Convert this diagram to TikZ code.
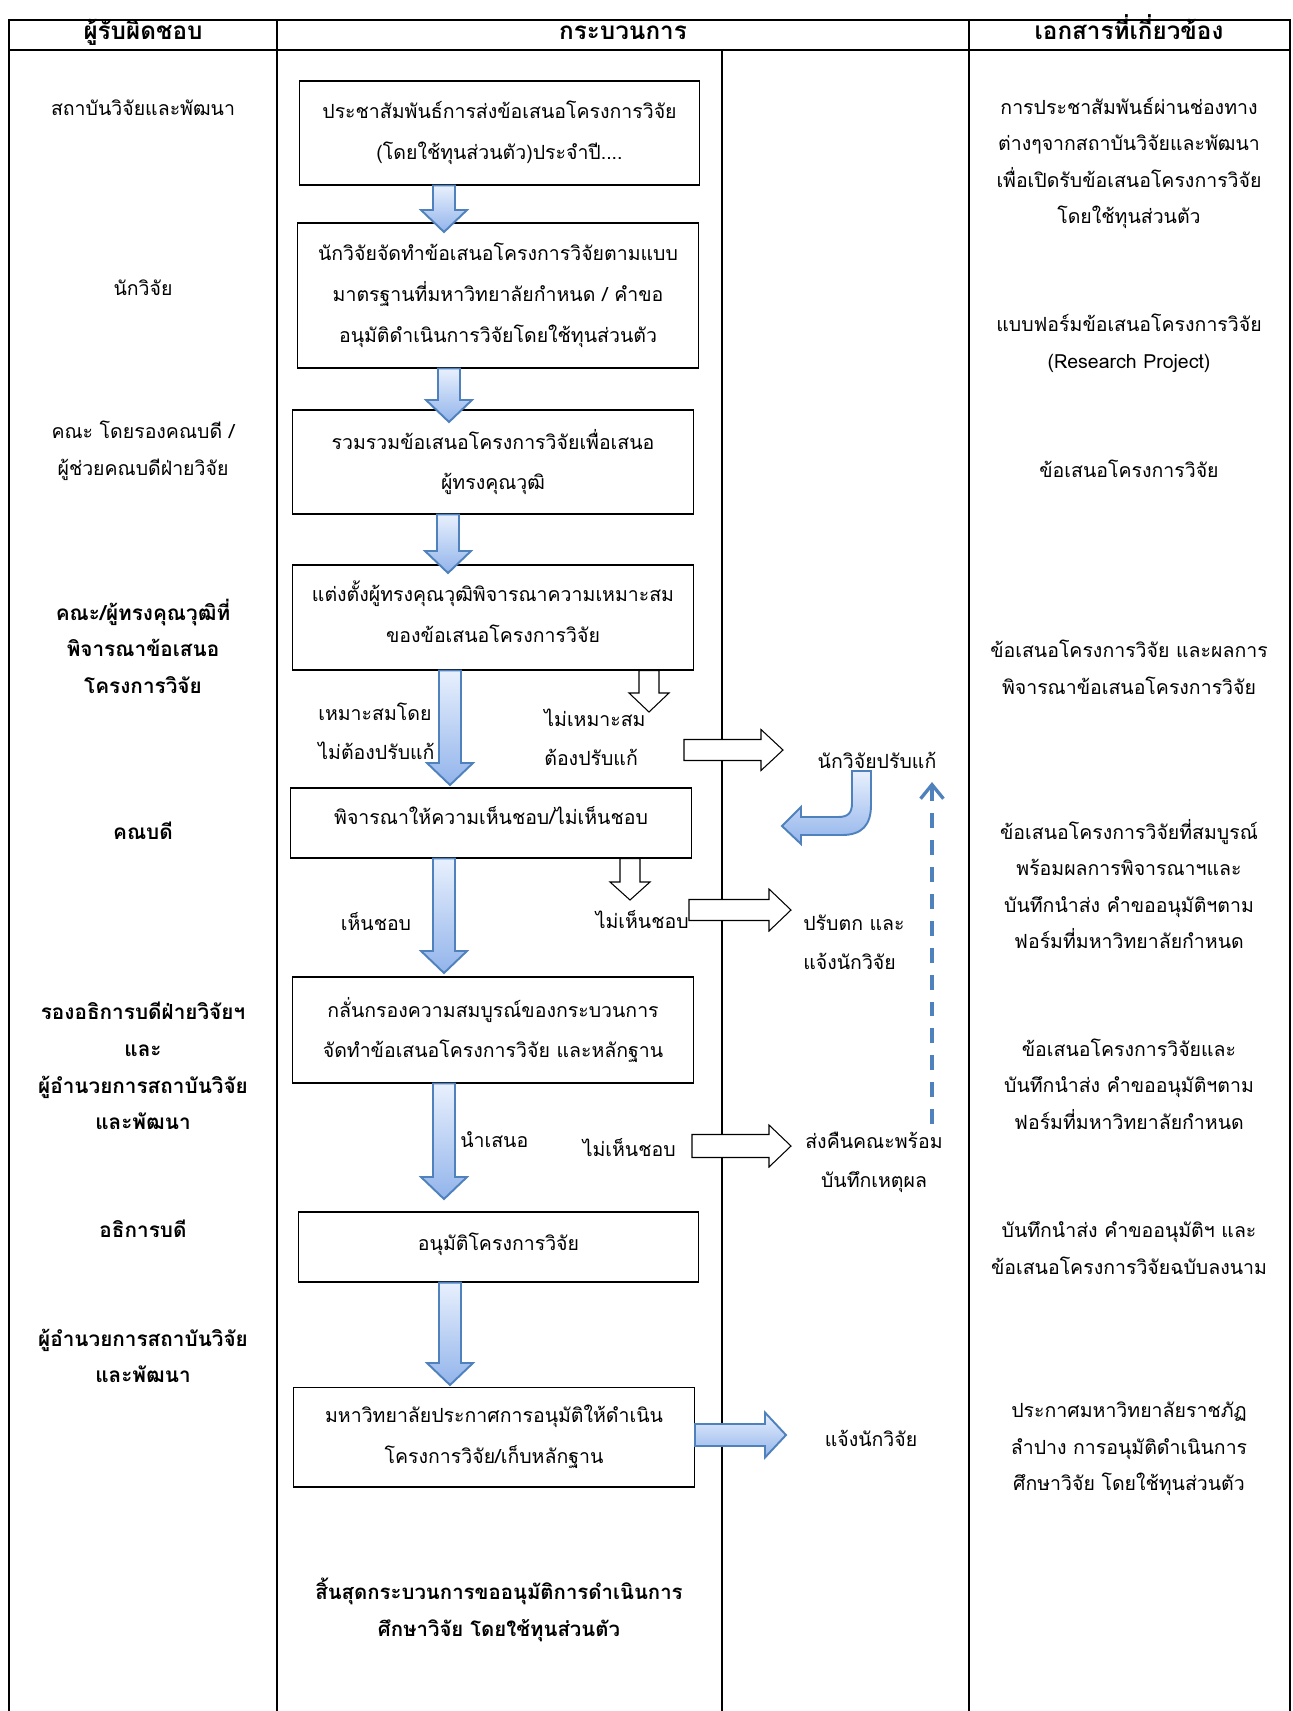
\documentclass[tikz,border=0pt]{standalone}
\usepackage{fontspec}
\setmainfont[Script=Thai]{Loma}
\usetikzlibrary{calc,arrows.meta}

\definecolor{arrowedge}{RGB}{79,129,189}
\definecolor{arrowlight}{RGB}{232,240,253}
\definecolor{arrowdark}{RGB}{146,180,235}

\tikzset{
  frameline/.style={line width=1.2pt},
  procbox/.style={draw, line width=0.6pt, align=center, inner sep=0pt,
    minimum width=8.02cm, font=\fontsize{11.1}{23.3}\selectfont},
  sidetext/.style={align=center, inner sep=0pt, font=\fontsize{11.1}{20.8}\selectfont},
  sidebold/.style={align=center, inner sep=0pt, font=\bfseries\fontsize{11.8}{20.8}\selectfont},
  headtext/.style={inner sep=0pt, anchor=base, font=\bfseries\fontsize{13.8}{16}\selectfont},
  flowtext/.style={align=left, inner sep=0pt, font=\fontsize{11.1}{22.3}\selectfont},
  endtext/.style={align=center, inner sep=0pt, font=\bfseries\fontsize{11.6}{21}\selectfont},
  bluearrow/.style={draw=arrowedge, line width=1.1pt, top color=arrowlight, bottom color=arrowdark},
  whitearrow/.style={draw=black, line width=0.6pt, fill=white},
  backline/.style={draw=arrowedge, line width=1.9pt, dash pattern=on 8.5pt off 6.8pt,
    -{Straight Barb[length=8pt,width=13pt]}}
}

% block arrows: style, tail, tip, half shaft, half head, head length
\newcommand{\downblock}[6]{\draw[#1] ($#2+(-#4,0)$) -- ($#2+(#4,0)$) -- ($#3+(#4,-#6)$) -- ($#3+(#5,-#6)$) -- #3 -- ($#3+(-#5,-#6)$) -- ($#3+(-#4,-#6)$) -- cycle;}
\newcommand{\rightblock}[6]{\draw[#1] ($#2+(0,-#4)$) -- ($#3+(-#6,-#4)$) -- ($#3+(-#6,-#5)$) -- #3 -- ($#3+(-#6,#5)$) -- ($#3+(-#6,#4)$) -- ($#2+(0,#4)$) -- cycle;}
% extra depth under the last line, lifts the text in its box
\newcommand{\lowstrut}[1]{\rule[-#1]{0pt}{0pt}}

\begin{document}
\begin{tikzpicture}[x=0.02cm, y=-0.02cm]
    \useasboundingbox (0,0) rectangle (1293,1711);

    % table frame
    \draw[frameline] (8.7,1711) -- (8.7,19.6) -- (1289.7,19.6) -- (1289.7,1711);
    \draw[frameline] (8.7,50.2) -- (1289.7,50.2);
    \draw[frameline] (277,19.6) -- (277,1711);
    \draw[frameline] (969,19.6) -- (969,1711);
    \draw[line width=0.8pt] (722,50.2) -- (722,1711);

    \node[headtext] (h1) at (143,39.5) {ผู้รับผิดชอบ};
    \node[headtext] (h2) at (623,39.5) {กระบวนการ};
    \node[headtext] (h3) at (1129,39.5) {เอกสารที่เกี่ยวข้อง};

    % who
    \node[sidetext] (r1) at (143,108) {สถาบันวิจัยและพัฒนา};
    \node[sidetext] (r2) at (143,288) {นักวิจัย};
    \node[sidetext] (r3) at (143,451) {คณะ โดยรองคณบดี /\\ผู้ช่วยคณบดีฝ่ายวิจัย};
    \node[sidebold] (r4) at (143,646) {คณะ/ผู้ทรงคุณวุฒิที่\\พิจารณาข้อเสนอ\\โครงการวิจัย};
    \node[sidebold] (r5) at (143,831) {คณบดี};
    \node[sidebold] (r6) at (143,1066) {รองอธิการบดีฝ่ายวิจัยฯ\\และ\\ผู้อำนวยการสถาบันวิจัย\\และพัฒนา};
    \node[sidebold] (r7) at (143,1229) {อธิการบดี};
    \node[sidebold] (r8) at (143,1356) {ผู้อำนวยการสถาบันวิจัย\\และพัฒนา};

    % documents
    \node[sidetext] (d1) at (1129,163) {การประชาสัมพันธ์ผ่านช่องทาง\\ต่างๆจากสถาบันวิจัยและพัฒนา\\เพื่อเปิดรับข้อเสนอโครงการวิจัย\\โดยใช้ทุนส่วนตัว};
    \node[sidetext] (d2) at (1129,343) {แบบฟอร์มข้อเสนอโครงการวิจัย\\(Research Project)};
    \node[sidetext] (d3) at (1129,469) {ข้อเสนอโครงการวิจัย};
    \node[sidetext] (d4) at (1129,667) {ข้อเสนอโครงการวิจัย และผลการ\\พิจารณาข้อเสนอโครงการวิจัย};
    \node[sidetext] (d5) at (1129,884) {ข้อเสนอโครงการวิจัยที่สมบูรณ์\\พร้อมผลการพิจารณาฯและ\\บันทึกนำส่ง คำขออนุมัติฯตาม\\ฟอร์มที่มหาวิทยาลัยกำหนด};
    \node[sidetext] (d6) at (1129,1084) {ข้อเสนอโครงการวิจัยและ\\บันทึกนำส่ง คำขออนุมัติฯตาม\\ฟอร์มที่มหาวิทยาลัยกำหนด};
    \node[sidetext] (d7) at (1129,1248) {บันทึกนำส่ง คำขออนุมัติฯ และ\\ข้อเสนอโครงการวิจัยฉบับลงนาม};
    \node[sidetext] (d8) at (1129,1449) {ประกาศมหาวิทยาลัยราชภัฏ\\ลำปาง การอนุมัติดำเนินการ\\ศึกษาวิจัย โดยใช้ทุนส่วนตัว};

    % process
    \node[procbox, minimum height=2.08cm] (b1) at (499.5,133) {ประชาสัมพันธ์การส่งข้อเสนอโครงการวิจัย\\(โดยใช้ทุนส่วนตัว)ประจำปี....};
    \node[procbox, minimum height=2.9cm] (b2) at (498,295.5) {นักวิจัยจัดทำข้อเสนอโครงการวิจัยตามแบบ\\มาตรฐานที่มหาวิทยาลัยกำหนด / คำขอ\\อนุมัติดำเนินการวิจัยโดยใช้ทุนส่วนตัว};
    \node[procbox, minimum height=2.08cm] (b3) at (493,462) {รวมรวมข้อเสนอโครงการวิจัยเพื่อเสนอ\\ผู้ทรงคุณวุฒิ};
    \node[procbox, minimum height=2.1cm] (b4) at (493,617.5) {แต่งตั้งผู้ทรงคุณวุฒิพิจารณาความเหมาะสม\\ของข้อเสนอโครงการวิจัย\lowstrut{7pt}};
    \node[procbox, minimum height=1.4cm] (b5) at (491,823) {พิจารณาให้ความเห็นชอบ/ไม่เห็นชอบ\lowstrut{8.5pt}};
    \node[procbox, minimum height=2.12cm] (b6) at (493,1030) {กลั่นกรองความสมบูรณ์ของกระบวนการ\\จัดทำข้อเสนอโครงการวิจัย และหลักฐาน};
    \node[procbox, minimum height=1.4cm] (b7) at (498.5,1247) {อนุมัติโครงการวิจัย\lowstrut{6pt}};
    \node[procbox, minimum height=2cm] (b8) at (494,1437) {มหาวิทยาลัยประกาศการอนุมัติให้ดำเนิน\\โครงการวิจัย/เก็บหลักฐาน};
    \node[endtext] (fin) at (499,1610) {สิ้นสุดกระบวนการขออนุมัติการดำเนินการ\\ศึกษาวิจัย โดยใช้ทุนส่วนตัว};

    % labels beside the arrows
    \node[flowtext, anchor=west] (ok1) at (318,731) {เหมาะสมโดย\\ไม่ต้องปรับแก้};
    \node[flowtext, anchor=west] (no1) at (544,737.5) {ไม่เหมาะสม\\ต้องปรับแก้};
    \node[sidetext] (fix) at (877,760) {นักวิจัยปรับแก้};
    \node[sidetext] (ok2) at (376,922) {เห็นชอบ};
    \node[sidetext, anchor=east] (no2) at (689,920) {ไม่เห็นชอบ};
    \node[flowtext, anchor=west] (fail) at (803,942) {ปรับตก และ\\แจ้งนักวิจัย};
    \node[sidetext, anchor=west] (send) at (460,1140) {นำเสนอ};
    \node[sidetext, anchor=east] (no3) at (676,1148) {ไม่เห็นชอบ};
    \node[flowtext, align=center] (ret) at (874,1162) {ส่งคืนคณะพร้อม\\บันทึกเหตุผล};
    \node[sidetext] (inform) at (871,1438) {แจ้งนักวิจัย};

    % arrow tips
    \coordinate (t1) at (444,232);
    \coordinate (t2) at (449,422);
    \coordinate (t3) at (448,573);
    \coordinate (t4) at (450,785);
    \coordinate (t5) at (444,973);
    \coordinate (t6) at (444,1199);
    \coordinate (t7) at (450,1385);
    \coordinate (t8) at (649,712);
    \coordinate (t9) at (630,900);
    \coordinate (s2) at (684,750);
    \coordinate (t10) at (783,750);
    \coordinate (t11) at (791,910);
    \coordinate (s5) at (692,1146);
    \coordinate (t12) at (791,1146);
    \coordinate (t13) at (786,1435);
    \coordinate (back1) at (932,1124);
    \coordinate (back2) at (932,782);

    \downblock{bluearrow}{(b1.south -| t1)}{(t1)}{11}{23}{22}
    \downblock{bluearrow}{(b2.south -| t2)}{(t2)}{11}{23}{22}
    \downblock{bluearrow}{(b3.south -| t3)}{(t3)}{11}{23}{22}
    \downblock{bluearrow}{(b4.south -| t4)}{(t4)}{11}{23}{22}
    \downblock{bluearrow}{(b5.south -| t5)}{(t5)}{11}{23}{22}
    \downblock{bluearrow}{(b6.south -| t6)}{(t6)}{11}{23}{22}
    \downblock{bluearrow}{(b7.south -| t7)}{(t7)}{11}{23}{22}
    \rightblock{bluearrow}{(b8.east |- t13)}{(t13)}{11}{22.5}{21}

    \downblock{whitearrow}{(b4.south -| t8)}{(t8)}{10}{20}{19}
    \downblock{whitearrow}{(b5.south -| t9)}{(t9)}{10}{20}{18}
    \rightblock{whitearrow}{(s2)}{(t10)}{10.5}{20.5}{22}
    \rightblock{whitearrow}{(no2.east |- t11)}{(t11)}{10.5}{21}{22}
    \rightblock{whitearrow}{(s5)}{(t12)}{11.5}{21}{22}

    % turn back to the dean
    \draw[bluearrow] (852,771) -- (871,771) -- (871,805) .. controls (871,825) and (862,835) .. (842,835)
        -- (801,835) -- (801,844) -- (782,826) -- (801,807) -- (801,817) -- (838,817)
        .. controls (848,817) and (852,813) .. (852,803) -- cycle;
    \draw[backline] (back1) -- (back2);
\end{tikzpicture}
\end{document}
